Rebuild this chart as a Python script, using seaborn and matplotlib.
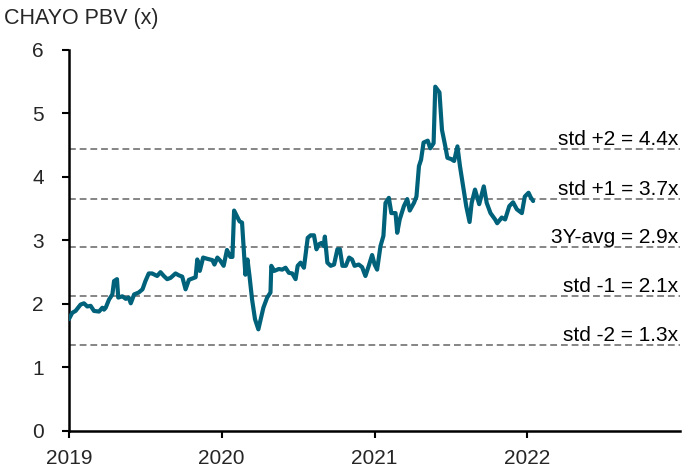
import pandas as pd
import seaborn as sns
import matplotlib
matplotlib.use("Agg")
import matplotlib.pyplot as plt
import matplotlib.dates as mdates

# weekly PBV readings
dates = [
    "2019-01-01", "2019-01-09", "2019-01-17", "2019-01-29", "2019-02-06", "2019-02-14",
    "2019-02-22", "2019-03-02", "2019-03-14", "2019-03-22", "2019-03-26", "2019-03-30",
    "2019-04-07", "2019-04-15", "2019-04-19", "2019-04-26", "2019-04-29", "2019-05-09",
    "2019-05-17", "2019-05-24", "2019-05-29", "2019-06-06", "2019-06-17", "2019-06-26",
    "2019-07-03", "2019-07-11", "2019-07-19", "2019-07-31", "2019-08-08", "2019-08-16",
    "2019-08-24", "2019-09-01", "2019-09-13", "2019-09-21", "2019-09-29", "2019-10-07",
    "2019-10-15", "2019-10-23", "2019-10-31", "2019-11-04", "2019-11-10", "2019-11-18",
    "2019-11-28", "2019-12-10", "2019-12-15", "2019-12-22", "2019-12-29", "2020-01-06",
    "2020-01-14", "2020-01-22", "2020-01-27", "2020-01-31", "2020-02-07", "2020-02-13",
    "2020-02-19", "2020-02-27", "2020-03-03", "2020-03-08", "2020-03-14", "2020-03-21",
    "2020-03-29", "2020-04-10", "2020-04-19", "2020-04-27", "2020-04-29", "2020-05-06",
    "2020-05-17", "2020-05-25", "2020-06-02", "2020-06-10", "2020-06-18", "2020-06-26",
    "2020-07-01", "2020-07-08", "2020-07-16", "2020-07-25", "2020-08-01", "2020-08-09",
    "2020-08-15", "2020-08-21", "2020-08-27", "2020-09-01", "2020-09-04", "2020-09-10",
    "2020-09-18", "2020-09-26", "2020-10-04", "2020-10-10", "2020-10-16", "2020-10-24",
    "2020-11-01", "2020-11-08", "2020-11-14", "2020-11-24", "2020-12-02", "2020-12-10",
    "2020-12-18", "2020-12-26", "2021-01-01", "2021-01-07", "2021-01-15", "2021-01-22",
    "2021-01-27", "2021-02-04", "2021-02-10", "2021-02-20", "2021-02-24", "2021-03-02",
    "2021-03-12", "2021-03-20", "2021-03-26", "2021-04-05", "2021-04-11", "2021-04-17",
    "2021-04-22", "2021-04-28", "2021-05-08", "2021-05-14", "2021-05-22", "2021-05-26",
    "2021-06-05", "2021-06-11", "2021-06-19", "2021-06-24", "2021-07-03", "2021-07-10",
    "2021-07-18", "2021-07-24", "2021-08-01", "2021-08-08", "2021-08-16", "2021-08-21",
    "2021-08-29", "2021-09-08", "2021-09-19", "2021-09-26", "2021-10-05", "2021-10-16",
    "2021-10-21", "2021-11-01", "2021-11-09", "2021-11-19", "2021-11-28", "2021-12-07",
    "2021-12-19", "2021-12-26", "2022-01-04", "2022-01-09", "2022-01-15",
]
pbv = [
    1.76, 1.86, 1.89, 1.99, 2.01, 1.96,
    1.97, 1.89, 1.88, 1.94, 1.91, 1.94,
    2.07, 2.15, 2.36, 2.39, 2.10, 2.12,
    2.08, 2.10, 2.01, 2.15, 2.18, 2.23,
    2.36, 2.48, 2.48, 2.44, 2.50, 2.44,
    2.39, 2.41, 2.48, 2.45, 2.43, 2.23,
    2.38, 2.40, 2.42, 2.70, 2.52, 2.73,
    2.71, 2.69, 2.62, 2.73, 2.68, 2.60,
    2.85, 2.74, 2.74, 3.47, 3.38, 3.30,
    3.28, 2.46, 2.70, 2.43, 2.07, 1.76,
    1.60, 1.94, 2.10, 2.18, 2.60, 2.52,
    2.55, 2.54, 2.57, 2.49, 2.48, 2.39,
    2.60, 2.65, 2.57, 3.04, 3.08, 3.08,
    2.86, 2.94, 2.96, 2.91, 3.06, 2.65,
    2.60, 2.62, 2.86, 2.86, 2.60, 2.60,
    2.73, 2.70, 2.60, 2.62, 2.58, 2.44,
    2.60, 2.77, 2.62, 2.54, 2.91, 3.07,
    3.59, 3.67, 3.43, 3.43, 3.12, 3.33,
    3.54, 3.65, 3.47, 3.59, 3.69, 4.17,
    4.27, 4.54, 4.57, 4.45, 4.53, 5.42,
    5.33, 4.74, 4.48, 4.30, 4.28, 4.25,
    4.48, 4.17, 3.83, 3.54, 3.29, 3.59,
    3.80, 3.57, 3.85, 3.59, 3.43, 3.33,
    3.27, 3.36, 3.33, 3.54, 3.60, 3.49,
    3.43, 3.69, 3.75, 3.68, 3.62,
]

band_values = [4.44, 3.65, 2.90, 2.12, 1.36]
band_labels = ["std +2 = 4.4x", "std +1 = 3.7x", "3Y-avg = 2.9x", "std -1 = 2.1x", "std -2 = 1.3x"]
year_ticks = ["2019", "2020", "2021", "2022"]

df = pd.DataFrame({"date": pd.to_datetime(dates), "pbv": pbv})

sns.set_style("ticks")
plt.rcParams["font.family"] = ["Liberation Sans", "DejaVu Sans"]

fig = plt.figure(figsize=(6.82, 4.70), dpi=100)
ax = fig.add_axes([0.101, 0.083, 0.896, 0.811])

# std bands
for val, lab in zip(band_values, band_labels):
    ax.axhline(val, color="#858585", lw=1.4, ls=(0, (3.5, 2.0)), zorder=1)
    ax.text(0.997, val + 0.06, lab, transform=ax.get_yaxis_transform(),
            ha="right", va="baseline", fontsize=15, color="black")

sns.lineplot(data=df, x="date", y="pbv", ax=ax, color="#00627a", lw=3.0, zorder=3)

ax.set_xlim(pd.Timestamp("2019-01-01"), pd.Timestamp("2023-01-01"))
ax.set_ylim(0, 6)
ax.set_xticks([pd.Timestamp(y + "-01-01") for y in year_ticks])
ax.xaxis.set_major_formatter(mdates.DateFormatter("%Y"))
ax.set_yticks(range(0, 7))
ax.set_xlabel("")
ax.set_ylabel("")
ax.tick_params(labelsize=15, length=5, width=1.5, color="black")
ax.tick_params(axis="y", pad=13)
ax.tick_params(axis="x", pad=8)

sns.despine(ax=ax)
for s in ["left", "bottom"]:
    ax.spines[s].set_linewidth(1.8)
    ax.spines[s].set_color("black")

fig.text(0.006, 0.96, "CHAYO PBV (x)", fontsize=15.5, ha="left", va="center")

fig.savefig("out.png", dpi=100)
